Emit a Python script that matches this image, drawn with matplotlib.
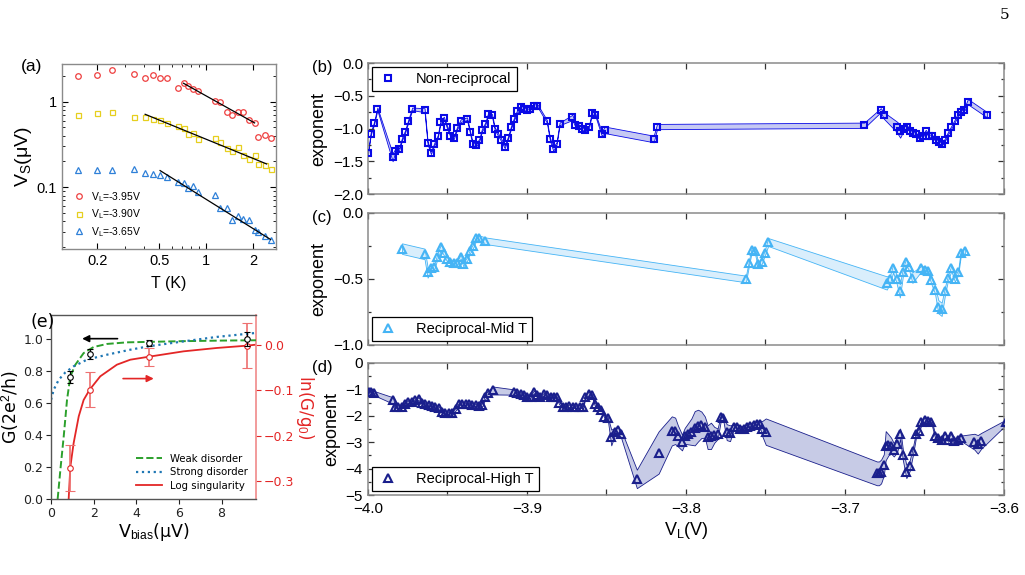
import matplotlib
matplotlib.use('Agg')
import matplotlib.pyplot as plt
from matplotlib.ticker import FixedLocator, MultipleLocator, NullFormatter, FuncFormatter, LogLocator
import numpy as np

plt.rcParams.update({
    'font.family': 'Liberation Sans',
    'font.size': 10,
    'axes.linewidth': 1.0,
    'mathtext.fontset': 'custom',
    'mathtext.rm': 'Liberation Sans',
    'mathtext.it': 'Liberation Sans:italic',
})

# ── (a) V_S vs T ────────────────────────────────────────────────────────────
T_a = [0.150, 0.200, 0.250, 0.346, 0.405, 0.456, 0.505, 0.563, 0.660, 0.714, 0.765, 0.823,
       0.882, 1.13, 1.23, 1.35, 1.47, 1.59, 1.73, 1.88, 2.04, 2.16, 2.37, 2.59]
vs_395 = [2.01, 2.07, 2.34, 2.09, 1.91, 2.07, 1.91, 1.89, 1.46, 1.64, 1.52, 1.39,
          1.32, 1.03, 0.98, 0.75, 0.70, 0.75, 0.76, 0.61, 0.56, 0.39, 0.41, 0.38]
vs_390 = [0.693, 0.731, 0.764, 0.662, 0.662, 0.627, 0.605, 0.564, 0.515, 0.488, 0.423, 0.431,
          0.370, 0.380, 0.341, 0.285, 0.268, 0.298, 0.236, 0.214, 0.236, 0.189, 0.182, 0.162]
vs_365 = [0.159, 0.159, 0.157, 0.162, 0.148, 0.143, 0.138, 0.133, 0.114, 0.113, 0.099, 0.104,
          0.088, 0.081, 0.057, 0.057, 0.041, 0.046, 0.043, 0.041, 0.032, 0.030, 0.027, 0.0245]
fit_395_T, fit_395_V = [0.714, 2.04], [1.637, 0.564]
fit_390_T, fit_390_V = [0.405, 2.436], [0.711, 0.187]
fit_365_T, fit_365_V = [0.505, 2.585], [0.1565, 0.0245]

# ── (e) G vs V_bias ─────────────────────────────────────────────────────────
vb_pts = [0.906, 1.81, 4.61, 9.2]
G_pts = [0.764, 0.908, 0.975, 1.0]
G_err = [0.037, 0.030, 0.020, 0.045]
lnG_pts = [-0.2706, -0.0985, -0.0257, -0.0015]
lnG_err = [0.050, 0.039, 0.020, 0.050]
weak_x = [0.31, 0.4375, 0.594, 0.75, 0.906, 1.14, 1.53, 2.0, 2.625, 3.56, 4.61, 6.0, 8.0, 9.62]
weak_y = [0.0, 0.182, 0.390, 0.620, 0.766, 0.839, 0.912, 0.950, 0.969, 0.979, 0.982, 0.986, 0.990, 0.992]
strong_x = [0.0, 0.125, 0.36, 0.67, 1.06, 1.69, 2.63, 3.72, 4.61, 6.22, 7.78, 9.62]
strong_y = [0.620, 0.683, 0.745, 0.791, 0.829, 0.871, 0.902, 0.933, 0.955, 0.985, 1.013, 1.038]
log_x = [0.82, 0.906, 1.06, 1.30, 1.53, 1.81, 2.31, 3.09, 3.72, 4.61, 6.22, 7.78, 9.2, 9.62]
log_y = [-0.345, -0.268, -0.216, -0.157, -0.121, -0.0985, -0.069, -0.0434, -0.0324, -0.0257,
         -0.014, -0.0066, -0.0015, 0.0007]

# ── (b) Non-reciprocal ─────────────────────────────────────────────────────
V_b = [-4.0000, -3.9983, -3.9962, -3.9941, -3.9845, -3.9831, -3.9805, -3.9786, -3.9767, -3.9746,
       -3.9722, -3.9644, -3.9625, -3.9604, -3.9583, -3.9561, -3.9544, -3.9523, -3.9502, -3.9481,
       -3.9460, -3.9439, -3.9417, -3.9377, -3.9358, -3.9341, -3.9318, -3.9299, -3.9284, -3.9263,
       -3.9244, -3.9220, -3.9203, -3.9182, -3.9163, -3.9140, -3.9119, -3.9100, -3.9081, -3.9062,
       -3.9040, -3.9017, -3.8998, -3.8981, -3.8958, -3.8934, -3.8875, -3.8856, -3.8835, -3.8814,
       -3.8795, -3.8714, -3.8697, -3.8672, -3.8653, -3.8633, -3.8610, -3.8591, -3.8570, -3.8530,
       -3.8511, -3.8203, -3.8182, -3.6879, -3.6775, -3.6756, -3.6676, -3.6653, -3.6631, -3.6610,
       -3.6591, -3.6572, -3.6551, -3.6530, -3.6511, -3.6492, -3.6472, -3.6451, -3.6430, -3.6411,
       -3.6390, -3.6371, -3.6352, -3.6331, -3.6311, -3.6290, -3.6271, -3.6250, -3.6227, -3.6106]
exp_b = [-1.38, -1.08, -0.92, -0.70, -1.44, -1.35, -1.32, -1.16, -1.05, -0.88,
         -0.70, -0.72, -1.22, -1.37, -1.24, -1.12, -0.90, -0.84, -0.98, -1.11,
         -1.14, -0.99, -0.88, -0.85, -1.06, -1.24, -1.25, -1.17, -1.03, -0.93,
         -0.78, -0.80, -1.00, -1.09, -1.17, -1.28, -1.14, -0.98, -0.85, -0.74,
         -0.67, -0.70, -0.72, -0.70, -0.65, -0.65, -0.89, -1.16, -1.31, -1.23,
         -0.93, -0.83, -0.95, -0.96, -1.00, -1.03, -0.97, -0.76, -0.79, -1.08,
         -1.02, -1.16, -0.97, -0.95, -0.72, -0.80, -0.97, -1.04, -1.00, -0.97,
         -1.04, -1.07, -1.09, -1.15, -1.11, -1.04, -1.11, -1.12, -1.17, -1.21,
         -1.24, -1.17, -1.07, -0.98, -0.89, -0.79, -0.75, -0.71, -0.59, -0.79]
err_b = [0.02, 0.02, 0.02, 0.02, 0.06, 0.03, 0.02, 0.02, 0.02, 0.02,
         0.02, 0.03, 0.02, 0.02, 0.02, 0.02, 0.02, 0.02, 0.02, 0.02,
         0.02, 0.02, 0.02, 0.02, 0.02, 0.02, 0.02, 0.02, 0.02, 0.02,
         0.02, 0.02, 0.02, 0.02, 0.02, 0.02, 0.02, 0.02, 0.02, 0.02,
         0.02, 0.02, 0.02, 0.02, 0.02, 0.02, 0.02, 0.02, 0.03, 0.02,
         0.02, 0.04, 0.02, 0.02, 0.02, 0.02, 0.02, 0.02, 0.02, 0.03,
         0.05, 0.05, 0.04, 0.04, 0.03, 0.05, 0.08, 0.10, 0.03, 0.02,
         0.02, 0.02, 0.02, 0.02, 0.02, 0.02, 0.02, 0.02, 0.02, 0.02,
         0.02, 0.02, 0.02, 0.02, 0.02, 0.02, 0.02, 0.02, 0.04, 0.04]

# ── (c) Reciprocal-Mid T ───────────────────────────────────────────────────
V_c = [-3.9786, -3.9644, -3.9625, -3.9604, -3.9583, -3.9564, -3.9542, -3.9523, -3.9504, -3.9481,
       -3.9460, -3.9439, -3.9417, -3.9400, -3.9377, -3.9358, -3.9339, -3.9318, -3.9299, -3.9263,
       -3.7623, -3.7604, -3.7587, -3.7566, -3.7547, -3.7525, -3.7504, -3.7483,
       -3.6737, -3.6716, -3.6697, -3.6676, -3.6655, -3.6636, -3.6617, -3.6595, -3.6576, -3.6519,
       -3.6498, -3.6477, -3.6456, -3.6434, -3.6413, -3.6392, -3.6371, -3.6352, -3.6331, -3.6309,
       -3.6288, -3.6271, -3.6246]
exp_c = [-0.27, -0.31, -0.45, -0.42, -0.41, -0.33, -0.26, -0.30, -0.35, -0.37,
         -0.38, -0.38, -0.33, -0.39, -0.35, -0.29, -0.25, -0.19, -0.19, -0.21,
         -0.50, -0.38, -0.28, -0.29, -0.39, -0.37, -0.30, -0.22,
         -0.53, -0.50, -0.42, -0.50, -0.59, -0.45, -0.37, -0.41, -0.49, -0.42,
         -0.43, -0.44, -0.51, -0.58, -0.71, -0.73, -0.59, -0.49, -0.42, -0.50,
         -0.45, -0.30, -0.29]
err_c = [0.04, 0.04, 0.04, 0.02, 0.02, 0.02, 0.02, 0.02, 0.015, 0.015,
         0.015, 0.015, 0.015, 0.015, 0.015, 0.015, 0.015, 0.015, 0.02, 0.025,
         0.025, 0.02, 0.02, 0.02, 0.02, 0.02, 0.02, 0.03,
         0.05, 0.03, 0.03, 0.03, 0.05, 0.03, 0.02, 0.03, 0.04, 0.02,
         0.02, 0.02, 0.03, 0.03, 0.05, 0.05, 0.03, 0.02, 0.02, 0.02,
         0.02, 0.02, 0.02]

# ── (d) Reciprocal-High T ──────────────────────────────────────────────────
V_d = [-3.9996, -3.9979, -3.9962,
       -3.9843, -3.9831, -3.9809, -3.9788, -3.9767, -3.9746, -3.9725, -3.9703, -3.9682, -3.9661,
       -3.9640, -3.9619, -3.9597, -3.9576, -3.9555, -3.9534, -3.9513, -3.9492, -3.9470, -3.9449,
       -3.9428, -3.9407, -3.9386, -3.9364, -3.9343, -3.9322, -3.9301, -3.9280,
       -3.9263, -3.9242, -3.9216,
       -3.9081, -3.9062, -3.9040, -3.9019, -3.8998, -3.8977, -3.8958, -3.8936, -3.8915, -3.8894,
       -3.8873, -3.8852, -3.8831, -3.8814, -3.8797, -3.8775, -3.8754, -3.8733, -3.8712, -3.8691,
       -3.8669, -3.8648,
       -3.8633, -3.8612, -3.8591, -3.8574, -3.8553, -3.8532, -3.8513, -3.8492, -3.8470, -3.8449,
       -3.8428, -3.8407, -3.8309, -3.8172,
       -3.8089, -3.8068, -3.8051, -3.8025, -3.8008, -3.7987, -3.7966, -3.7945, -3.7924, -3.7903,
       -3.7881, -3.7864, -3.7843, -3.7822, -3.7801, -3.7780, -3.7765, -3.7744, -3.7723, -3.7701,
       -3.7680, -3.7659, -3.7638, -3.7617, -3.7595, -3.7574, -3.7553, -3.7536, -3.7519, -3.7498,
       -3.6799, -3.6786, -3.6773, -3.6756, -3.6744, -3.6727, -3.6710, -3.6693, -3.6672, -3.6653,
       -3.6636, -3.6614, -3.6593, -3.6572, -3.6553, -3.6536, -3.6519, -3.6498, -3.6477, -3.6456,
       -3.6434, -3.6413, -3.6392, -3.6371, -3.6350, -3.6333, -3.6314, -3.6292, -3.6271, -3.6186,
       -3.6165, -3.6144, -3.5989]
exp_d = [-1.08, -1.10, -1.14,
         -1.42, -1.66, -1.66, -1.66, -1.54, -1.47, -1.48, -1.42, -1.35, -1.52,
         -1.56, -1.58, -1.62, -1.66, -1.71, -1.84, -1.90, -1.91, -1.90, -1.75,
         -1.56, -1.54, -1.56, -1.56, -1.58, -1.60, -1.62, -1.58,
         -1.27, -1.15, -1.04,
         -1.10, -1.15, -1.17, -1.20, -1.27, -1.27, -1.10, -1.20, -1.30, -1.18,
         -1.20, -1.27, -1.27, -1.30, -1.52, -1.65, -1.67, -1.62, -1.65, -1.67,
         -1.65, -1.67,
         -1.27, -1.17, -1.23, -1.56, -1.68, -1.77, -2.03, -2.09, -2.82, -2.62,
         -2.53, -2.70, -4.39, -3.39,
         -2.57, -2.57, -2.76, -3.01, -2.76, -2.68, -2.60, -2.47, -2.37, -2.34,
         -2.43, -2.81, -2.76, -2.72, -2.68, -2.05, -2.09, -2.62, -2.66, -2.44,
         -2.44, -2.49, -2.49, -2.41, -2.37, -2.34, -2.32, -2.32, -2.49, -2.60,
         -4.18, -4.18, -4.11, -3.86, -3.13, -3.10, -3.13, -3.29, -3.08, -2.68,
         -3.48, -4.11, -3.89, -3.32, -2.70, -2.57, -2.25, -2.15, -2.18, -2.22,
         -2.75, -2.85, -2.91, -2.75, -2.91, -2.76, -2.95, -2.91, -2.85, -2.98,
         -3.08, -2.95, -2.25]
err_d = [0.08, 0.08, 0.08,
         0.12, 0.06, 0.05, 0.05, 0.05, 0.05, 0.05, 0.05, 0.05, 0.05,
         0.05, 0.05, 0.05, 0.05, 0.05, 0.06, 0.06, 0.06, 0.06, 0.05,
         0.05, 0.05, 0.05, 0.05, 0.05, 0.05, 0.05, 0.06,
         0.10, 0.10, 0.15,
         0.10, 0.05, 0.05, 0.05, 0.05, 0.05, 0.05, 0.05, 0.05, 0.05,
         0.05, 0.05, 0.05, 0.05, 0.05, 0.05, 0.05, 0.05, 0.05, 0.05,
         0.05, 0.05,
         0.08, 0.08, 0.05, 0.05, 0.05, 0.05, 0.05, 0.05, 0.30, 0.15,
         0.10, 0.15, 0.35, 0.80,
         0.55, 0.50, 0.40, 0.30, 0.30, 0.40, 0.50, 0.65, 0.60, 0.50,
         0.40, 0.45, 0.50, 0.30, 0.20, 0.10, 0.10, 0.30, 0.30, 0.10,
         0.10, 0.10, 0.10, 0.10, 0.10, 0.10, 0.10, 0.10, 0.30, 0.50,
         0.45, 0.45, 0.45, 0.40, 0.55, 0.40, 0.30, 0.25, 0.30, 0.20,
         0.20, 0.25, 0.20, 0.15, 0.10, 0.08, 0.08, 0.08, 0.08, 0.08,
         0.08, 0.08, 0.08, 0.08, 0.08, 0.08, 0.08, 0.08, 0.10, 0.30,
         0.35, 0.30, 0.10]

# ── Colours ─────────────────────────────────────────────────────────────────
RED_A, YEL_A, BLU_A = '#ee4040', '#e6cf1e', '#2f80d8'
SPINE_GRAY = '#8a8a8a'

fig = plt.figure(figsize=(10.25, 5.75), dpi=100)

# ════════════════════════════════════════════════════════════════════════════
# (a)
# ════════════════════════════════════════════════════════════════════════════
ax_a = fig.add_axes([0.0605, 0.567, 0.2088, 0.3217])
ax_a.plot(T_a, vs_395, 'o', mfc='none', mec=RED_A, ms=4, mew=0.9, label='V$_\\mathrm{L}$=-3.95V')
ax_a.plot(T_a, vs_390, 's', mfc='none', mec=YEL_A, ms=3.6, mew=0.9, label='V$_\\mathrm{L}$=-3.90V')
ax_a.plot(T_a, vs_365, '^', mfc='none', mec=BLU_A, ms=4, mew=0.9, label='V$_\\mathrm{L}$=-3.65V')
for ft, fv in [(fit_395_T, fit_395_V), (fit_390_T, fit_390_V), (fit_365_T, fit_365_V)]:
    ax_a.plot(ft, fv, color='black', lw=0.9)
ax_a.set_xscale('log')
ax_a.set_yscale('log')
ax_a.set_xlim(0.1186, 2.80)
ax_a.set_ylim(0.019, 2.75)
ax_a.xaxis.set_major_locator(FixedLocator([0.2, 0.5, 1, 2]))
ax_a.xaxis.set_major_formatter(FuncFormatter(lambda v, p: f'{v:g}'))
ax_a.xaxis.set_minor_locator(LogLocator(base=10, subs=np.arange(1, 10)))
ax_a.xaxis.set_minor_formatter(NullFormatter())
ax_a.yaxis.set_major_locator(FixedLocator([0.1, 1]))
ax_a.yaxis.set_major_formatter(FuncFormatter(lambda v, p: f'{v:g}'))
ax_a.yaxis.set_minor_locator(LogLocator(base=10, subs=np.arange(1, 10)))
ax_a.yaxis.set_minor_formatter(NullFormatter())
ax_a.tick_params(which='both', direction='in', top=True, right=True, labelsize=10.5)
ax_a.tick_params(which='major', length=4)
ax_a.tick_params(which='minor', length=2)
for s in ax_a.spines.values():
    s.set_color(SPINE_GRAY)
ax_a.set_xlabel('T (K)', fontsize=11.5, labelpad=6)
ax_a.set_ylabel('V$_\\mathrm{S}$(μV)', fontsize=14, labelpad=2)
ax_a.legend(loc='lower left', frameon=False, fontsize=7.5, handletextpad=0.6,
            labelspacing=0.35, borderaxespad=0.6, handlelength=1.2)
fig.text(0.02, 0.884, '(a)', fontsize=12.5, va='center')

# ════════════════════════════════════════════════════════════════════════════
# (e)
# ════════════════════════════════════════════════════════════════════════════
ax_e = fig.add_axes([0.0498, 0.1322, 0.2, 0.32])
ax_r = ax_e.twinx()
ax_e.set_zorder(ax_r.get_zorder() + 1)
ax_e.patch.set_visible(False)
l1, = ax_e.plot(weak_x, weak_y, '--', color='#2ca02c', lw=1.4, label='Weak disorder')
l2, = ax_e.plot(strong_x, strong_y, ':', color='#1f77b4', lw=1.6, label='Strong disorder')
ax_e.errorbar(vb_pts, G_pts, yerr=G_err, fmt='o', mfc='white', mec='black', ms=4, mew=0.8,
              ecolor='black', elinewidth=0.9, capsize=2.5, zorder=5)
l3, = ax_r.plot(log_x, log_y, '-', color='#e32626', lw=1.3, label='Log singularity')
ax_r.errorbar(vb_pts, lnG_pts, yerr=lnG_err, fmt='o', mfc='white', mec='#e32626', ms=4, mew=0.8,
              ecolor='#ee7070', elinewidth=1.2, capsize=3.5, zorder=5)
ax_e.set_xlim(0, 9.62)
ax_e.set_ylim(0, 1.15)
ax_r.set_ylim(-0.339, 0.066)
ax_e.set_xticks([0, 2, 4, 6, 8])
ax_e.set_yticks([0.0, 0.2, 0.4, 0.6, 0.8, 1.0])
ax_r.set_yticks([0.0, -0.1, -0.2, -0.3])
ax_e.tick_params(labelsize=9, length=3.5, width=0.8, pad=2, colors='#222222', labelfontfamily='DejaVu Sans')
ax_r.tick_params(labelsize=9, length=3.5, width=0.8, pad=2, colors='#e32626', labelfontfamily='DejaVu Sans')
ax_r.spines['right'].set_color('#f08a8a')
ax_r.spines['right'].set_linewidth(1.2)
for k in ['left', 'top', 'bottom']:
    ax_r.spines[k].set_visible(False)
    ax_e.spines[k].set_color('#555555')
ax_e.spines['right'].set_visible(False)
ax_e.set_xlabel('V$_\\mathrm{bias}$(μV)', fontsize=12.5, labelpad=1, family='DejaVu Sans')
ax_e.set_ylabel('G(2e$^2$/h)', fontsize=12.5, labelpad=2, family='DejaVu Sans')
ax_r.set_ylabel('ln(G/g$_0$)', fontsize=12, color='#e32626', rotation=270, labelpad=16,
                family='DejaVu Sans')
ax_e.annotate('', xy=(1.33, 1.002), xytext=(3.25, 1.002),
              arrowprops=dict(arrowstyle='-|>', color='black', lw=1.2, mutation_scale=10))
ax_r.annotate('', xy=(4.95, -0.074), xytext=(3.25, -0.074),
              arrowprops=dict(arrowstyle='-|>', color='#e32626', lw=1.2, mutation_scale=10))
ax_e.legend(handles=[l1, l2, l3], loc='lower right', frameon=False,
            prop={'family': 'DejaVu Sans', 'size': 7.3}, handlelength=2.6, labelspacing=0.35,
            borderaxespad=0.4)
fig.text(0.03, 0.44, '(e)', fontsize=12.5, va='center', family='DejaVu Sans')

# ════════════════════════════════════════════════════════════════════════════
# (b)-(d)
# ════════════════════════════════════════════════════════════════════════════
def exponent_panel(rect, V, y, err, color, fill, marker, label, ylim, ymaj, ymin, ytl,
                   legend_loc, show_x, tag, ms):
    ax = fig.add_axes(rect)
    V = np.array(V)
    y = np.array(y)
    err = np.array(err)
    ax.fill_between(V, y - err, y + err, facecolor=fill, edgecolor=color, lw=0.6, zorder=1)
    ax.plot(V, y, marker, ls='none', mfc='none', mec=color, ms=ms, mew=1.5, zorder=3, label=label)
    ax.set_xlim(-4.0, -3.6)
    ax.set_ylim(*ylim)
    ax.xaxis.set_major_locator(MultipleLocator(0.1))
    ax.xaxis.set_minor_locator(MultipleLocator(0.05))
    ax.yaxis.set_major_locator(FixedLocator(ymaj))
    ax.yaxis.set_minor_locator(MultipleLocator(ymin))
    ax.set_yticklabels(ytl)
    ax.tick_params(which='both', direction='in', top=True, right=True, labelsize=11,
                   width=0.9, colors='#333333', labelcolor='black')
    ax.tick_params(which='major', length=4)
    ax.tick_params(which='minor', length=4)
    ax.tick_params(axis='y', which='minor', length=2.5)
    ax.tick_params(axis='x', pad=5)
    if show_x:
        ax.xaxis.set_major_formatter(FuncFormatter(lambda v, p: f'{v:.1f}'.replace('-', '\u2212')))
        ax.set_xlabel('V$_\\mathrm{L}$(V)', fontsize=13, labelpad=3)
    else:
        ax.set_xticklabels([])
    for s in ax.spines.values():
        s.set_color(SPINE_GRAY)
        s.set_linewidth(1.1)
    ax.set_ylabel('exponent', fontsize=13, labelpad=4)
    leg = ax.legend(loc=legend_loc, fontsize=10.5, frameon=True, fancybox=False, edgecolor='black',
                    framealpha=1, handletextpad=1.2, borderpad=0.35, borderaxespad=0.25,
                    handlelength=1.5)
    leg.get_frame().set_linewidth(0.9)
    fig.text(rect[0] - 0.055, rect[1] + rect[3] - 0.008, tag, fontsize=12, va='center')
    return ax

exponent_panel([0.359, 0.6626, 0.6205, 0.2278], V_b, exp_b, err_b, '#0a0ae6', '#c6c9f3', 's',
               'Non-reciprocal', (-2.0, 0.0), [-2.0, -1.5, -1.0, -0.5, 0.0], 0.25,
               ['\u22122.0', '\u22121.5', '\u22121.0', '\u22120.5', '0.0'], 'upper left', False, '(b)', 5)
exponent_panel([0.359, 0.4, 0.6205, 0.2296], V_c, exp_c, err_c, '#45b4f5', '#d9eefc', '^',
               'Reciprocal-Mid T', (-1.0, 0.0), [-1.0, -0.5, 0.0], 0.25,
               ['\u22121.0', '\u22120.5', '0.0'], 'lower left', False, '(c)', 5.5)
exponent_panel([0.359, 0.1391, 0.6205, 0.2296], V_d, exp_d, err_d, '#1a1f8c', '#c7cbe6', '^',
               'Reciprocal-High T', (-5.0, 0.0), [-5, -4, -3, -2, -1, 0], 0.5,
               ['\u22125', '\u22124', '\u22123', '\u22122', '\u22121', '0'], 'lower left', True, '(d)', 5.5)

fig.text(0.9805, 0.974, '5', fontsize=11, family='DejaVu Serif', ha='center', va='center')

fig.savefig('out.png', dpi=100)
